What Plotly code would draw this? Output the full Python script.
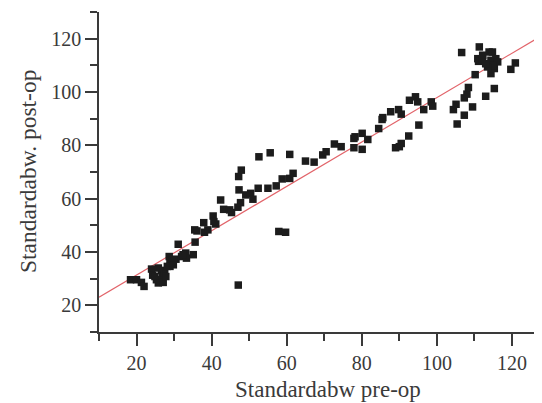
import plotly.graph_objects as go

# Data
pre_op = [18.4, 20.0, 21.3, 22.0, 24.0, 24.3, 25.3, 26.2, 26.6, 26.9, 27.5, 28.2, 28.7, 28.9,
          29.6, 30.5, 31.1, 32.0, 33.1, 33.3, 35.1, 35.6, 35.5, 36.1, 37.9, 38.1, 39.0, 40.4,
          40.6, 41.1, 42.4, 43.2, 44.8, 45.3, 47.2, 47.9, 47.3, 47.0, 47.7, 49.1, 50.4, 51.0,
          52.4, 52.6, 55.0, 55.6, 57.2, 58.8, 60.8, 61.7, 60.8, 57.9, 59.7, 47.1, 65.0, 67.3,
          69.6, 70.5, 72.7, 74.5, 77.9, 78.2, 77.9, 80.1, 80.1, 81.6, 84.5, 85.4, 85.6, 87.7,
          89.8, 90.5, 89.0, 90.0, 90.5, 92.5, 92.7, 94.3, 94.9, 95.2, 96.5, 98.5, 98.9, 104.4,
          105.1, 105.4, 107.3, 107.3, 108.0, 108.4, 109.5, 106.6, 110.2, 111.3, 110.9, 111.1,
          112.2, 113.0, 113.5, 113.9, 114.8, 114.4, 114.4, 115.3, 115.3, 115.7, 116.2, 115.0,
          113.5, 119.7, 120.9, 113.0, 112.2, 24.9, 25.8, 27.1, 27.8, 25.8, 28.9, 29.8, 32.4]
post_op = [29.6, 29.6, 28.6, 27.1, 33.6, 31.3, 29.6, 29.0, 33.1, 30.8, 32.1, 34.6, 38.3, 36.5,
           37.1, 37.3, 42.9, 38.3, 39.6, 37.7, 39.0, 43.7, 48.3, 47.9, 51.0, 47.4, 48.3, 53.5,
           51.4, 50.5, 59.5, 56.0, 55.8, 54.8, 68.3, 70.7, 63.3, 56.8, 58.5, 61.4, 62.0, 59.8,
           63.9, 75.7, 63.9, 77.2, 64.8, 67.4, 67.6, 69.5, 76.6, 47.7, 47.4, 27.6, 74.1, 73.7,
           76.4, 77.6, 80.5, 79.5, 82.6, 83.2, 79.1, 84.5, 78.5, 82.2, 86.3, 89.7, 90.4, 92.6,
           93.4, 91.7, 79.1, 79.5, 80.7, 83.5, 96.9, 98.2, 96.3, 87.6, 93.4, 96.3, 94.7, 93.4,
           95.4, 88.0, 91.3, 97.8, 99.2, 101.7, 94.4, 114.8, 106.5, 116.9, 112.5, 111.5,
           113.8, 98.4, 110.6, 115.0, 115.0, 111.9, 106.9, 101.3, 108.8, 112.5, 111.3, 110.0,
           109.4, 108.5, 110.9, 110.6, 112.0, 30.8, 28.4, 28.6, 30.8, 34.0, 34.6, 35.2, 39.0]

fit_intercept = 14.7
fit_slope = 0.832

x_range = [10, 128]
y_range = [10, 130]
tick_vals = [20, 40, 60, 80, 100, 120]
x_title = "Standardabw pre-op"
y_title = "Standardabw. post-op"

fit_x = x_range
fit_y = [fit_intercept + fit_slope * v for v in fit_x]

fig = go.Figure()
fig.add_trace(go.Scatter(x=fit_x, y=fit_y, mode="lines",
                         line=dict(color="#e2646a", width=1.2), hoverinfo="skip"))
fig.add_trace(go.Scatter(x=pre_op, y=post_op, mode="markers",
                         marker=dict(symbol="square", size=7.5, color="#1c1c1c",
                                     line=dict(width=0))))

axis_common = dict(
    showgrid=False, zeroline=False, showline=True, linecolor="#3a3a3a", linewidth=1.5,
    ticks="outside", ticklen=12, tickwidth=1.5, tickcolor="#3a3a3a",
    tickvals=tick_vals, automargin=False,
    minor=dict(ticks="outside", ticklen=7, tickwidth=1.5, tickcolor="#3a3a3a", dtick=10, tick0=0),
    tickfont=dict(family="Liberation Serif", size=20, color="#3a3a3a"),
)

# the page body adds an 8px offset, so the figure is 8px smaller and margins shifted
fig.update_layout(
    width=534, height=395,
    margin=dict(l=91, r=0, t=4, b=71, pad=0),
    paper_bgcolor="white", plot_bgcolor="white",
    showlegend=False,
    xaxis=dict(range=x_range, **axis_common),
    yaxis=dict(range=y_range, **axis_common),
    annotations=[
        dict(text=x_title, xref="paper", yref="paper", x=0.517, y=0, yshift=-57,
             xanchor="center", yanchor="middle", showarrow=False,
             font=dict(family="Liberation Serif", size=23, color="#3a3a3a")),
        dict(text=y_title, xref="paper", yref="paper", x=0, y=0.5, xshift=-71,
             xanchor="center", yanchor="middle", textangle=-90, showarrow=False,
             font=dict(family="Liberation Serif", size=23.5, color="#3a3a3a")),
    ],
)

fig.write_html("out.html")
